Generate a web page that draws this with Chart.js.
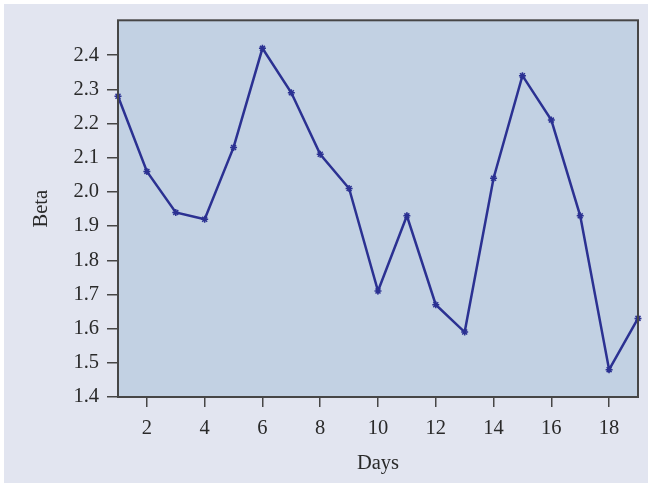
<!DOCTYPE html>
<html>
<head>
<meta charset="utf-8">
<script src="https://cdn.jsdelivr.net/npm/chart.js@4"></script>
<style>
html,body{margin:0;padding:0;background:#ffffff;}
#wrap{width:648px;height:483px;}
</style>
</head>
<body>
<div id="wrap"><canvas id="c" width="648" height="483"></canvas></div>
<script>
const days = [1,2,3,4,5,6,7,8,9,10,11,12,13,14,15,16,17,18,19];
const beta = [2.28,2.06,1.94,1.92,2.13,2.42,2.29,2.11,2.01,1.71,1.93,1.67,1.59,2.04,2.34,2.21,1.93,1.48,1.63];
const xTicks = [2,4,6,8,10,12,14,16,18];
const yTicks = [1.4,1.5,1.6,1.7,1.8,1.9,2.0,2.1,2.2,2.3,2.4];
const xTitle = 'Days';
const yTitle = 'Beta';

const FONT = 'Liberation Serif, Times New Roman, serif';
const FS = 20.5;
const TXT = '#2a2a2a';
const AXIS = '#464646';

const bgPlugin = {
  id: 'bg',
  beforeDraw(chart) {
    const ctx = chart.ctx, a = chart.chartArea;
    ctx.save();
    ctx.fillStyle = '#ffffff';
    ctx.fillRect(0, 0, chart.width, chart.height);
    ctx.fillStyle = '#e2e5f0';
    ctx.fillRect(4, 4, chart.width - 4, chart.height - 4);
    ctx.fillStyle = '#c2d1e3';
    ctx.fillRect(a.left, a.top, a.right - a.left, a.bottom - a.top);
    ctx.restore();
  },
  afterDraw(chart) {
    const ctx = chart.ctx, a = chart.chartArea;
    ctx.save();
    ctx.strokeStyle = AXIS;
    ctx.lineWidth = 2;
    ctx.strokeRect(a.left, a.top, a.right - a.left, a.bottom - a.top);
    ctx.restore();
  }
};

new Chart(document.getElementById('c'), {
  type: 'line',
  data: {
    datasets: [{
      data: days.map((d, i) => ({x: d, y: beta[i]})),
      borderColor: '#2b3192',
      backgroundColor: '#2b3192',
      borderWidth: 2.5,
      pointStyle: 'star',
      pointRadius: 3.5,
      pointBorderWidth: 1.5,
      pointBorderColor: '#2b3192',
      tension: 0,
      clip: false
    }]
  },
  options: {
    responsive: false,
    devicePixelRatio: 1,
    animation: false,
    layout: {padding: {left: 0, top: 19, right: 10, bottom: 0}},
    plugins: {legend: {display: false}, tooltip: {enabled: false}},
    scales: {
      x: {
        type: 'linear',
        min: 1, max: 19,
        afterBuildTicks(s) { s.ticks = xTicks.map(v => ({value: v})); },
        afterFit(s) { s.height = 86; },
        grid: {drawOnChartArea: false, tickLength: 10, color: AXIS, lineWidth: 1.5},
        border: {display: false},
        ticks: {color: TXT, font: {family: FONT, size: FS}, padding: 9, maxRotation: 0},
        title: {display: true, text: xTitle, color: TXT, font: {family: FONT, size: FS}, padding: {top: 0, bottom: 7}}
      },
      y: {
        type: 'linear',
        min: 1.4, max: 2.502,
        afterBuildTicks(s) { s.ticks = yTicks.map(v => ({value: v})); },
        afterFit(s) { s.width = 118; },
        grid: {drawOnChartArea: false, tickLength: 11, color: AXIS, lineWidth: 1.5},
        border: {display: false},
        ticks: {color: TXT, font: {family: FONT, size: FS}, padding: 8, callback: v => Number(v).toFixed(1)},
        title: {display: true, text: yTitle, color: TXT, font: {family: FONT, size: FS}, padding: {top: 29, bottom: 0}}
      }
    }
  },
  plugins: [bgPlugin]
});
</script>
</body>
</html>
